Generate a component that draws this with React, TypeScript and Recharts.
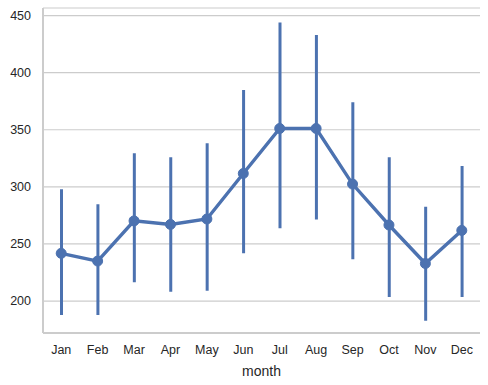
import React from "react";
import {
  ComposedChart,
  Line,
  Bar,
  XAxis,
  YAxis,
  CartesianGrid,
  Label,
} from "recharts";

const months = ["Jan", "Feb", "Mar", "Apr", "May", "Jun", "Jul", "Aug", "Sep", "Oct", "Nov", "Dec"];
const meanPassengers = [241.75, 235.0, 270.17, 267.08, 271.83, 311.67, 351.08, 351.08, 302.42, 266.58, 232.83, 261.83];
const ciLow = [187.7, 187.7, 216.4, 208.1, 209.0, 241.8, 263.7, 271.5, 236.5, 203.5, 182.8, 203.5];
const ciHigh = [297.8, 284.7, 329.3, 325.8, 338.1, 384.8, 444.0, 432.9, 374.0, 325.8, 282.6, 318.2];
const yTicks = [200, 250, 300, 350, 400, 450];

const data = months.map((m, i) => ({
  month: m,
  mean: meanPassengers[i],
  ci: [ciLow[i], ciHigh[i]],
}));

const BLUE = "#4c72b0";
const TEXT = "#262626";
const GRID = "#cccccc";
const FONT = "'Liberation Sans', Arial, sans-serif";

export default function App() {
  return (
    <div style={{ position: "absolute", left: 0, top: 0, width: 488, height: 385, background: "#fff" }}>
      <ComposedChart
        width={488}
        height={385}
        data={data}
        margin={{ top: 8, right: 8, left: 0, bottom: 0 }}
        barCategoryGap={0}
        style={{ fontFamily: FONT }}
      >
        <CartesianGrid vertical={false} stroke={GRID} strokeWidth={1.2} />
        <XAxis
          dataKey="month"
          height={52}
          tickLine={false}
          tickSize={0}
          tickMargin={12}
          axisLine={{ stroke: GRID, strokeWidth: 2 }}
          tick={{ fill: TEXT, fontSize: 12.5 }}
          interval={0}
        >
          <Label value="month" position="insideBottom" offset={9} fill={TEXT} fontSize={14} />
        </XAxis>
        <XAxis
          xAxisId="top"
          dataKey="month"
          orientation="top"
          height={0}
          tick={false}
          tickLine={false}
          axisLine={{ stroke: GRID, strokeWidth: 2 }}
        />
        <YAxis
          width={43}
          domain={[172, 456.6]}
          ticks={yTicks}
          type="number"
          allowDataOverflow
          tickLine={false}
          tickSize={0}
          tickMargin={12}
          axisLine={{ stroke: GRID, strokeWidth: 2 }}
          tick={{ fill: TEXT, fontSize: 12.5 }}
        />
        <YAxis
          yAxisId="right"
          orientation="right"
          width={0}
          domain={[172, 456.6]}
          tick={false}
          tickLine={false}
          axisLine={{ stroke: GRID, strokeWidth: 2 }}
        />
        <Bar dataKey="ci" barSize={3} fill={BLUE} isAnimationActive={false} />
        <Line
          dataKey="mean"
          stroke={BLUE}
          strokeWidth={3.4}
          dot={{ r: 5, fill: BLUE, stroke: BLUE, strokeWidth: 1 }}
          activeDot={false}
          isAnimationActive={false}
        />
      </ComposedChart>
    </div>
  );
}
